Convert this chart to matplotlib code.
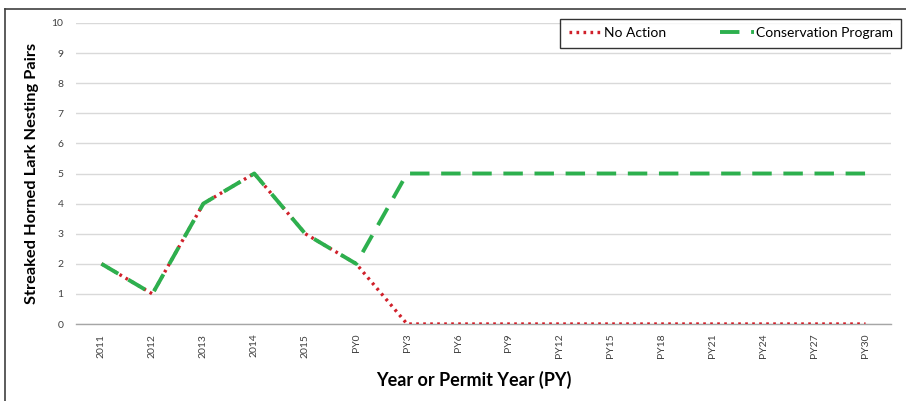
import matplotlib
matplotlib.use("Agg")
import matplotlib.pyplot as plt
from matplotlib.lines import Line2D

categories = ["2011", "2012", "2013", "2014", "2015", "PY0", "PY3", "PY6", "PY9",
              "PY12", "PY15", "PY18", "PY21", "PY24", "PY27", "PY30"]
no_action = [2, 1, 4, 5, 3, 2, 0, 0, 0, 0, 0, 0, 0, 0, 0, 0]
conservation = [2, 1, 4, 5, 3, 2, 5, 5, 5, 5, 5, 5, 5, 5, 5, 5]
y_ticks = list(range(0, 11))

plt.rcParams['font.family'] = ['Lato', 'DejaVu Sans']

W, H = 906, 401
fig = plt.figure(figsize=(W / 100, H / 100), dpi=100)
ax = fig.add_axes([76 / W, 1 - 324 / H, (891 - 76) / W, (324 - 23) / H])

green = '#2DB04E'
red = '#D0202A'
red_ls = (0, (0.8, 1.3))
green_ls = (0, (5, 3.0))
x = list(range(len(categories)))
ax.plot(x, no_action, color=red, lw=2.4, linestyle=red_ls,
        label='No Action', zorder=3)
ax.plot(x, conservation, color=green, lw=2.8, linestyle=green_ls,
        label='Conservation Program', zorder=4)

ax.set_xlim(-0.5, 15.5)
ax.set_ylim(0, 10)
ax.set_yticks(y_ticks)
ax.set_yticklabels([str(v) for v in y_ticks], fontsize=7.5, color='#404040')
ax.set_xticks(x)
ax.set_xticklabels(categories, rotation=90, fontsize=7.5, color='#404040')
ax.tick_params(axis='both', length=0)
ax.tick_params(axis='y', pad=9)
ax.tick_params(axis='x', pad=7)
ax.grid(axis='y', color='#d9d9d9', lw=1)
ax.set_axisbelow(True)
for s in ['top', 'right', 'left']:
    ax.spines[s].set_visible(False)
ax.spines['bottom'].set_color('#a6a6a6')
ax.spines['bottom'].set_linewidth(1)

ax.set_ylabel('Streaked Horned Lark Nesting Pairs', fontsize=11.8, fontweight='bold', labelpad=9)
xl = ax.set_xlabel('Year or Permit Year (PY)', fontsize=13, fontweight='bold')
ax.xaxis.set_label_coords((474 - 76) / 815, (324 - 380) / 301)
xl.set_verticalalignment('center')

handles = [
    Line2D([], [], color=red, lw=2.4, linestyle=red_ls),
    Line2D([], [], color=green, lw=2.8, linestyle=green_ls),
]
leg = fig.legend(handles, ['No Action', 'Conservation Program'], loc='upper right',
                 bbox_to_anchor=(901 / W, 1 - 19 / H), bbox_transform=fig.transFigure,
                 ncol=2, frameon=True, fancybox=False, edgecolor='black', fontsize=10,
                 borderaxespad=0, handlelength=2.4, handletextpad=0.15, columnspacing=3.9,
                 borderpad=0.6)
leg.get_frame().set_linewidth(1.0)

# outer frame
fig.add_artist(Line2D([5 / W, 1], [1 - 9 / H, 1 - 9 / H], transform=fig.transFigure,
                      color='#404040', lw=1.2))
fig.add_artist(Line2D([5 / W, 5 / W], [0, 1 - 9 / H], transform=fig.transFigure,
                      color='#404040', lw=1.2))

fig.savefig('out.png', dpi=100)
